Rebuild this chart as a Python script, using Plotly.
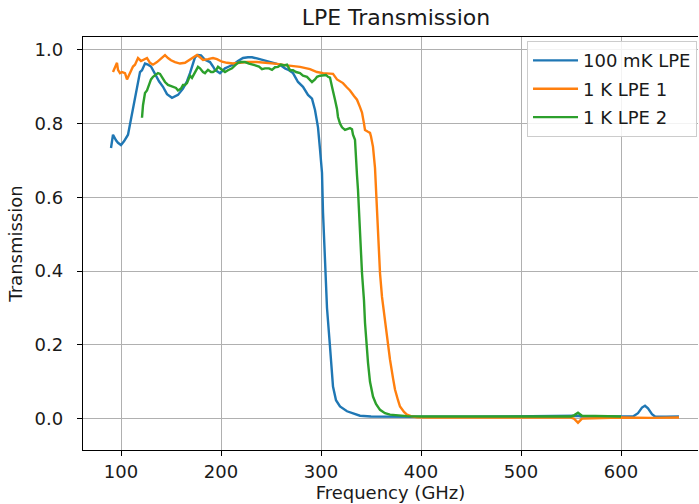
import plotly.graph_objects as go

# 100 mK LPE
f_blue = [90, 92, 95, 97, 100, 103, 107, 109, 112, 115, 117, 119, 121, 124, 127, 130, 134, 138, 142, 146,
          151, 157, 162, 166, 169, 172, 174, 177, 180, 184, 189, 192, 194, 199, 204, 208, 212, 217, 222, 227,
          231, 236, 241, 246, 251, 256, 259, 264, 268, 272, 277, 282, 287, 291, 294, 297, 299, 301, 302, 303,
          304, 306, 309, 312, 315, 319, 326, 333, 339, 350, 370, 400, 450, 500, 550, 557, 560, 600, 612, 617,
          621, 624, 627, 631, 634, 645, 658]
t_blue = [0.734, 0.77, 0.755, 0.748, 0.742, 0.752, 0.77, 0.80, 0.84, 0.88, 0.92, 0.94, 0.945, 0.963, 0.96, 0.955, 0.935, 0.915, 0.90, 0.88,
          0.87, 0.878, 0.895, 0.915, 0.937, 0.96, 0.98, 0.986, 0.985, 0.973, 0.967, 0.955, 0.946, 0.937, 0.95, 0.955, 0.96, 0.97, 0.978, 0.98,
          0.98, 0.977, 0.973, 0.968, 0.965, 0.962, 0.96, 0.95, 0.945, 0.937, 0.913, 0.90, 0.878, 0.868, 0.837, 0.79, 0.73, 0.667, 0.56, 0.485,
          0.40, 0.30, 0.195, 0.087, 0.05, 0.033, 0.02, 0.013, 0.008, 0.006, 0.005, 0.005, 0.005, 0.006, 0.006, 0.008, 0.006, 0.006, 0.006, 0.015,
          0.03, 0.035, 0.028, 0.012, 0.006, 0.005, 0.006]

# 1 K LPE 1
f_orange = [92, 94, 96, 97, 99, 101, 104, 106, 109, 112, 114, 117, 120, 122, 126, 129, 132, 136, 141, 144,
            147, 150, 154, 159, 164, 170, 176, 179, 182, 187, 192, 196, 201, 206, 212, 219, 226, 236, 246, 256,
            266, 279, 289, 296, 302, 306, 309, 312, 316, 319, 322, 326, 329, 333, 336, 339, 341, 343, 344, 347,
            349, 350, 352, 354, 356, 357, 359, 361, 364, 367, 369, 372, 374, 377, 379, 383, 386, 390, 396, 410,
            450, 500, 550, 553, 557, 561, 600, 630, 658]
t_orange = [0.94, 0.955, 0.965, 0.946, 0.937, 0.94, 0.937, 0.92, 0.937, 0.955, 0.96, 0.978, 0.97, 0.973, 0.978, 0.965, 0.96, 0.967, 0.978, 0.986,
            0.978, 0.972, 0.967, 0.963, 0.965, 0.975, 0.986, 0.98, 0.973, 0.975, 0.978, 0.975, 0.968, 0.965, 0.963, 0.965, 0.967, 0.967, 0.965, 0.962,
            0.958, 0.954, 0.948, 0.94, 0.937, 0.937, 0.937, 0.935, 0.92, 0.915, 0.91, 0.898, 0.89, 0.875, 0.865, 0.845, 0.83, 0.80, 0.783, 0.778,
            0.775, 0.765, 0.737, 0.68, 0.575, 0.50, 0.395, 0.33, 0.26, 0.20, 0.16, 0.11, 0.079, 0.05, 0.033, 0.018, 0.011, 0.007, 0.004, 0.003,
            0.003, 0.003, 0.003, 0.0, -0.011, 0.0, 0.003, 0.002, 0.003]

# 1 K LPE 2
f_green = [121, 122, 124, 126, 128, 130, 132, 135, 137, 139, 141, 144, 147, 151, 155, 157, 160, 162, 164, 166,
           169, 171, 174, 177, 179, 182, 184, 187, 190, 192, 195, 197, 200, 204, 207, 211, 214, 217, 220, 224,
           228, 231, 234, 238, 241, 244, 248, 251, 254, 257, 260, 263, 266, 269, 272, 275, 279, 282, 286, 289,
           291, 294, 296, 299, 302, 305, 307, 309, 311, 313, 314, 316, 317, 319, 321, 324, 327, 329, 331, 332,
           334, 335, 336, 337, 339, 341, 343, 344, 347, 349, 352, 355, 359, 364, 369, 378, 386, 400, 450, 500,
           550, 553, 557, 561, 600]
t_green = [0.816, 0.85, 0.883, 0.89, 0.905, 0.92, 0.927, 0.932, 0.937, 0.935, 0.925, 0.913, 0.905, 0.90, 0.897, 0.89, 0.895, 0.905, 0.905, 0.91,
           0.93, 0.924, 0.94, 0.954, 0.95, 0.94, 0.937, 0.946, 0.94, 0.94, 0.945, 0.954, 0.948, 0.94, 0.945, 0.95, 0.958, 0.965, 0.967, 0.967,
           0.963, 0.96, 0.958, 0.955, 0.948, 0.95, 0.95, 0.946, 0.953, 0.954, 0.96, 0.958, 0.96, 0.945, 0.945, 0.94, 0.937, 0.93, 0.927, 0.918,
           0.913, 0.92, 0.927, 0.93, 0.932, 0.932, 0.927, 0.925, 0.90, 0.88, 0.865, 0.84, 0.818, 0.80, 0.79, 0.783, 0.786, 0.788, 0.785, 0.77,
           0.756, 0.72, 0.66, 0.62, 0.50, 0.395, 0.32, 0.26, 0.152, 0.10, 0.06, 0.04, 0.024, 0.015, 0.011, 0.008, 0.007, 0.006, 0.006, 0.006,
           0.006, 0.009, 0.016, 0.008, 0.006]

x_ticks = [100, 200, 300, 400, 500, 600]
y_ticks = [0.0, 0.2, 0.4, 0.6, 0.8, 1.0]

FONT = "DejaVu Sans"
TXT = "#1a1a1a"
fig = go.Figure()
for name, xs, ys, col, grp in [("100 mK LPE", f_blue, t_blue, "#1f77b4", "a"),
                               ("1 K LPE 1", f_orange, t_orange, "#ff7f0e", "b"),
                               ("1 K LPE 2", f_green, t_green, "#2ca02c", "c")]:
    fig.add_trace(go.Scatter(x=xs, y=ys, mode="lines", name=name, legendgroup=grp,
                             line=dict(color=col, width=2.4)))

axis_common = dict(showgrid=True, gridcolor="#b0b0b0", gridwidth=1.3, zeroline=False,
                   showline=True, linecolor="black", linewidth=1.3, automargin=False,
                   ticks="outside", ticklen=5, tickwidth=1.3, tickcolor="black",
                   tickfont=dict(family=FONT, size=18, color=TXT))
fig.update_xaxes(range=[62, 677], tickvals=x_ticks, ticktext=[str(v) for v in x_ticks], mirror=True,
                 title=dict(text="Frequency (GHz)", font=dict(family=FONT, size=18, color=TXT), standoff=1),
                 **axis_common)
fig.update_yaxes(range=[-0.085, 1.035], tickvals=y_ticks, ticktext=[f"{v:.1f}" for v in y_ticks],
                 ticklabelstandoff=10,
                 title=dict(text="Transmission", font=dict(family=FONT, size=18, color=TXT), standoff=7),
                 **axis_common)
fig.update_layout(
    width=699, height=504,
    margin=dict(l=83, r=1, t=37, b=54),
    paper_bgcolor="white", plot_bgcolor="white",
    title=dict(text="LPE Transmission", x=0.5665, xanchor="center", y=0.966, yanchor="middle",
               font=dict(family=FONT, size=22, color=TXT)),
    legend=dict(x=0.9984, y=0.99, xanchor="right", yanchor="top", bgcolor="rgba(255,255,255,0.85)",
                bordercolor="#cccccc", borderwidth=1, traceorder="grouped", tracegroupgap=2,
                itemwidth=45,
                font=dict(family=FONT, size=18, color=TXT)),
    showlegend=True,
)
fig.write_html("out.html", config={"displayModeBar": False},
               post_script="document.body.style.margin='0';")
